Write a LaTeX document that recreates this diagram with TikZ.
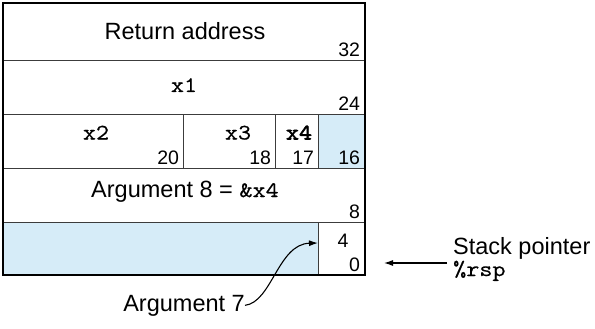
\documentclass[tikz,border=0pt]{standalone}
\usepackage{fontspec}
\setmainfont{Liberation Sans}
\setmonofont{Latin Modern Mono}[Scale=0.94, FakeStretch=1.15, FakeBold=0.6, BoldFont={Latin Modern Mono}, BoldFeatures={FakeBold=2.5}]
\usetikzlibrary{positioning,arrows.meta}
\definecolor{slotblue}{RGB}{214,236,248}
\definecolor{rule}{RGB}{60,60,60}
\tikzset{
  flowarrow/.style={-{Latex[length=9pt,width=6pt]}, line width=1.1pt},
  cell/.style={draw=rule, line width=1.2pt, fill=white, anchor=north west, inner sep=0pt},
  padcell/.style={cell, fill=slotblue},
  offsetlbl/.style={font=\fontsize{19.5}{20}\selectfont, anchor=base east, inner sep=0pt},
  celltext/.style={font=\fontsize{23.5}{26}\selectfont, anchor=base, inner sep=0pt},
  note/.style={font=\fontsize{23.5}{22}\selectfont, inner sep=0pt, align=left}
}
\begin{document}
\begin{tikzpicture}[x=1pt, y=-1pt]
  \useasboundingbox (0,0) rectangle (595,329);
  % frame rows
  \node[cell, minimum width=362pt, minimum height=57pt] (ret) at (3,3) {};
  \node[cell, minimum width=362pt, minimum height=54pt] (xone) at (3,60) {};
  \node[cell, minimum width=180pt, minimum height=54pt] (xtwo) at (3,114) {};
  \node[cell, minimum width=92pt, minimum height=54pt] (xthree) at (183,114) {};
  \node[cell, minimum width=43pt, minimum height=54pt] (xfour) at (275,114) {};
  \node[padcell, minimum width=47pt, minimum height=54pt] (pad) at (318,114) {};
  \node[cell, minimum width=362pt, minimum height=54pt] (argeight) at (3,168) {};
  \node[padcell, minimum width=315pt, minimum height=53pt] (argseven) at (3,222) {};
  \node[cell, minimum width=47pt, minimum height=53pt] (slot) at (318,222) {};
  \draw[line width=2.6pt] (3,3) rectangle (365,275);
  % labels
  \node[celltext] (retlbl) at (185,39.5) {Return address};
  \node[celltext] (xonelbl) at (184,92) {\texttt{x1}};
  \node[celltext] (xtwolbl) at (96,139.5) {\texttt{x2}};
  \node[celltext] (xthreelbl) at (238,139.5) {\texttt{x3}};
  \node[celltext] (xfourlbl) at (299,139.5) {\texttt{\bfseries x4}};
  \node[celltext] (arglbl) at (185,197) {Argument 8 = \texttt{\&x4}};
  % offsets
  \node[offsetlbl] at ([shift={(-6pt,5pt)}]ret.south east) {32};
  \node[offsetlbl] at ([shift={(-6pt,5pt)}]xone.south east) {24};
  \node[offsetlbl] at ([shift={(-5pt,5pt)}]xtwo.south east) {20};
  \node[offsetlbl] at ([shift={(-5pt,5pt)}]xthree.south east) {18};
  \node[offsetlbl] at ([shift={(-5pt,5pt)}]xfour.south east) {17};
  \node[offsetlbl] at ([shift={(-6pt,5pt)}]pad.south east) {16};
  \node[offsetlbl] at ([shift={(-6pt,5pt)}]argeight.south east) {8};
  \node[offsetlbl, anchor=base] (slotfour) at (343,247) {4};
  \node[offsetlbl] at ([shift={(-6pt,5pt)}]slot.south east) {0};
  % pointers
  \node[note, anchor=base east] (argseven lbl) at (245,311) {Argument 7};
  \coordinate (slotedge) at (318,243);
  \draw[flowarrow] (argseven lbl.east) .. controls (272,302) and (278,244) .. (slotedge);
  \node[note, anchor=west] (sp) at (453,259) {Stack pointer\\\texttt{\%rsp}};
  \coordinate (spend) at (384,263);
  \draw[flowarrow] (447,263) -- (spend);
\end{tikzpicture}
\end{document}
